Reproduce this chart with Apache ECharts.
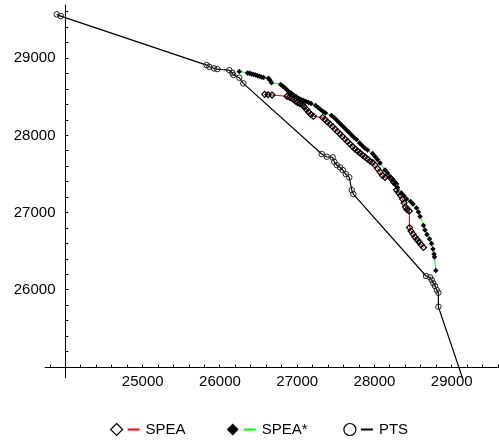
<!DOCTYPE html>
<html>
<head>
<meta charset="utf-8">
<script src="https://cdn.jsdelivr.net/npm/echarts@6/dist/echarts.min.js"></script>
<style>
  html, body { margin: 0; padding: 0; background: #fff; }
  #chart { width: 499px; height: 441px; }
</style>
</head>
<body>
<div id="chart"></div>
<script>
// axis ranges and ticks
const xRange = [23735, 29612];
const yRange = [24864, 29690];
const axisCross = [24000, 25000];
const xTicks = [23800, 24000, 24200, 24400, 24600, 24800, 25000, 25200, 25400, 25600, 25800,
  26000, 26200, 26400, 26600, 26800, 27000, 27200, 27400, 27600, 27800, 28000, 28200,
  28400, 28600, 28800, 29000, 29200, 29400, 29600];
const xLabels = [25000, 26000, 27000, 28000, 29000];
const yTicks = [25000, 25200, 25400, 25600, 25800, 26000, 26200, 26400, 26600, 26800, 27000,
  27200, 27400, 27600, 27800, 28000, 28200, 28400, 28600, 28800, 29000, 29200, 29400, 29600];
const yLabels = [26000, 27000, 28000, 29000];

// SPEA
const speaX = [26579, 26622, 26674, 26868, 26900, 26926, 26952, 26978, 27004, 27036, 27069,
  27094, 27120, 27146, 27179, 27211, 27328, 27360, 27392, 27425, 27457, 27489, 27522, 27554,
  27586, 27619, 27651, 27684, 27716, 27748, 27781, 27813, 27845, 27878, 27910, 27942, 27975,
  28007, 28039, 28072, 28104, 28137, 28221, 28247, 28273, 28285, 28311, 28337, 28363, 28383,
  28402, 28421, 28451, 28454, 28473, 28499, 28525, 28551, 28577, 28603, 28635];
const speaY = [28533, 28528, 28524, 28508, 28498, 28485, 28465, 28446, 28427, 28411, 28394,
  28368, 28336, 28304, 28271, 28248, 28232, 28206, 28174, 28148, 28116, 28083, 28051, 28019,
  27986, 27954, 27922, 27889, 27857, 27825, 27799, 27773, 27747, 27721, 27695, 27669, 27650,
  27617, 27572, 27527, 27482, 27456, 27436, 27397, 27372, 27294, 27261, 27223, 27177, 27126,
  27074, 27041, 27022, 26808, 26763, 26724, 26685, 26653, 26621, 26588, 26550];

// SPEA*
const speaStarX = [26250, 26357, 26383, 26408, 26434, 26460, 26486, 26512, 26538, 26564, 26628,
  26648, 26667, 26784, 26810, 26836, 26862, 26887, 26920, 26952, 26985, 27017, 27049, 27082,
  27114, 27146, 27179, 27237, 27269, 27302, 27334, 27366, 27444, 27476, 27509, 27541, 27573,
  27606, 27638, 27671, 27703, 27735, 27768, 27806, 27839, 27871, 27910, 27975, 28007, 28039,
  28072, 28137, 28169, 28201, 28234, 28266, 28298, 28350, 28383, 28415, 28467, 28499, 28544,
  28570, 28590, 28635, 28654, 28680, 28713, 28739, 28758, 28771, 28777, 28793];
const speaStarY = [28830, 28811, 28805, 28797, 28789, 28783, 28775, 28766, 28757, 28750, 28740,
  28714, 28682, 28662, 28640, 28621, 28595, 28569, 28549, 28526, 28504, 28481, 28465, 28452,
  28440, 28427, 28416, 28388, 28362, 28336, 28310, 28291, 28258, 28232, 28200, 28168, 28135,
  28103, 28071, 28038, 28006, 27973, 27948, 27902, 27870, 27838, 27812, 27766, 27728, 27689,
  27643, 27553, 27514, 27469, 27423, 27378, 27326, 27255, 27216, 27177, 27145, 27113, 27061,
  27009, 26951, 26834, 26776, 26718, 26660, 26601, 26530, 26465, 26427, 26252];

// PTS
const ptsX = [23887, 23939, 25828, 25862, 25923, 25966, 26121, 26160, 26173, 26250, 26302,
  27317, 27382, 27460, 27480, 27511, 27554, 27589, 27628, 27674, 27706, 27726,
  28667, 28719, 28741, 28762, 28784, 28806, 28827, 28827, 29160];
const ptsY = [29568, 29546, 28912, 28890, 28869, 28860, 28847, 28812, 28783, 28748, 28675,
  27760, 27725, 27717, 27660, 27617, 27588, 27553, 27501, 27458, 27294, 27242,
  26181, 26164, 26129, 26086, 26051, 25999, 25964, 25783, 24800];

const zip = (xs, ys) => xs.map((x, i) => [x, ys[i]]);

const tickLen = 3;
const gridBox = { left: 45, right: 0, top: 5, bottom: 63.3 };
const gridW = 499 - gridBox.left - gridBox.right;
const gridH = 441 - gridBox.top - gridBox.bottom;
const kx = gridW / (xRange[1] - xRange[0]);
const ky = gridH / (yRange[1] - yRange[0]);

// move the axis lines so they cross at axisCross
const xOffset = -(axisCross[1] - yRange[0]) * ky;
const yOffset = -(axisCross[0] - xRange[0]) * kx;

const font = "'Liberation Sans', Arial, sans-serif";
const plain = v => String(v);
const snap = v => Math.round(v - 0.5) + 0.5;

// tick marks, placed through the axis scales, pointing into the plot
function tickSeries(name, data, dx, dy) {
    return {
        name: name,
        type: "custom",
        xAxisIndex: 0,
        yAxisIndex: 0,
        silent: true,
        clip: false,
        z: 1,
        data: data,
        renderItem: function (params, api) {
            let p = api.coord([api.value(0), api.value(1)]);
            let x = snap(p[0]), y = snap(p[1]);
            return {
                type: "line",
                shape: { x1: x, y1: y, x2: x + dx, y2: y + dy },
                style: { stroke: "#000", lineWidth: 1 }
            };
        }
    };
}

let chart = echarts.init(document.getElementById("chart"), null, { renderer: "canvas" });

const legendNames = ["SPEA", "SPEA*", "PTS"];
const legendLeft = [110, 226.7, 343.3];
const legendIcons = [
    { icon: "diamond", itemStyle: { color: "#fff", borderColor: "#000", borderWidth: 1.2 } },
    { icon: "diamond", itemStyle: { color: "#000", borderColor: "#000", borderWidth: 0 } },
    { icon: "circle", itemStyle: { color: "#fff", borderColor: "#000", borderWidth: 1.2 } }
];
const legendLine = ["#f00", "#0f0", "#000"];

let legends = legendNames.map((name, i) => ({
    left: legendLeft[i],
    top: 422,
    padding: 0,
    itemWidth: 12,
    itemHeight: 12,
    data: [Object.assign({ name: name }, legendIcons[i])],
    formatter: n => "{l| }{s| }" + n,
    textStyle: {
        color: "#000",
        fontSize: 15,
        fontFamily: font,
        rich: {
            l: { width: 12, height: 2, backgroundColor: legendLine[i] },
            s: { width: 6 }
        }
    }
}));

let option = {
    animation: false,
    backgroundColor: "#fff",
    grid: gridBox,
    xAxis: {
        type: "value",
        min: xRange[0],
        max: xRange[1],
        position: "bottom",
        offset: xOffset,
        axisLine: { show: true, onZero: false, lineStyle: { color: "#000", width: 1 } },
        axisTick: { show: false },
        axisLabel: { customValues: xLabels, formatter: plain, margin: 7, color: "#000", fontSize: 15, fontFamily: font },
        splitLine: { show: false }
    },
    yAxis: {
        type: "value",
        min: yRange[0],
        max: yRange[1],
        position: "left",
        offset: yOffset,
        axisLine: { show: true, onZero: false, lineStyle: { color: "#000", width: 1 } },
        axisTick: { show: false },
        axisLabel: { customValues: yLabels, formatter: plain, margin: 10, color: "#000", fontSize: 15, fontFamily: font },
        splitLine: { show: false }
    },
    legend: legends,
    series: [
        tickSeries("xTicks", xTicks.map(v => [v, axisCross[1]]), 0, -tickLen),
        tickSeries("yTicks", yTicks.map(v => [axisCross[0], v]), tickLen, 0),
        {
            name: "PTS",
            type: "line",
            data: zip(ptsX, ptsY),
            symbol: "circle",
            symbolSize: 5.5,
            showAllSymbol: true,
            clip: true,
            itemStyle: { color: "rgba(255,255,255,0)", borderColor: "#222", borderWidth: 1 },
            lineStyle: { color: "#000", width: 1.2 },
            z: 2
        },
        {
            name: "SPEA",
            type: "line",
            data: zip(speaX, speaY),
            symbol: "diamond",
            symbolSize: 6,
            showAllSymbol: true,
            itemStyle: { color: "rgba(255,255,255,0)", borderColor: "#000", borderWidth: 1.2 },
            lineStyle: { color: "#f00", width: 1 },
            z: 3
        },
        {
            name: "SPEA*",
            type: "line",
            data: zip(speaStarX, speaStarY),
            symbol: "diamond",
            symbolSize: 5.5,
            showAllSymbol: true,
            itemStyle: { color: "#000" },
            lineStyle: { color: "#0f0", width: 1 },
            z: 4
        }
    ]
};
chart.setOption(option);
</script>
</body>
</html>
